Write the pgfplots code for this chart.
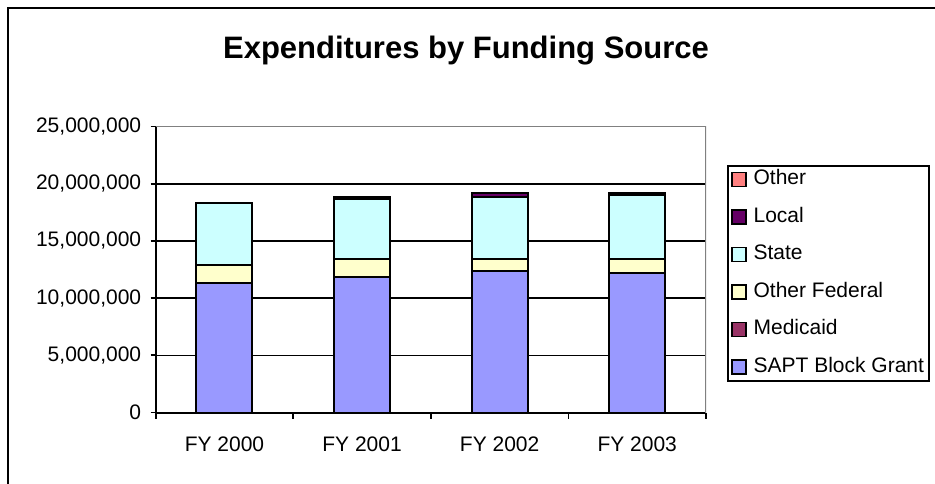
\documentclass[border=0pt]{standalone}
\usepackage{fontspec}
\setmainfont{Liberation Sans}
\usepackage{pgfplots}
\usepackage{pgfplotstable}
\pgfplotsset{compat=1.18}

\definecolor{sapt}{HTML}{9999FF}
\definecolor{medicaid}{HTML}{993366}
\definecolor{otherfed}{HTML}{FFFFCC}
\definecolor{state}{HTML}{CCFFFF}
\definecolor{local}{HTML}{660066}
\definecolor{other}{HTML}{FF8080}
\definecolor{frame}{HTML}{808080}

% values (dollars)
\pgfplotstableread{
x sapt     medicaid otherfed state   local  other
0 11290000 0        1600000  5450000 0      0
1 11840000 0        1580000  5240000 200000 0
2 12370000 0        1050000  5440000 330000 0
3 12170000 0        1250000  5620000 170000 0
}\funding

\begin{document}
\begin{tikzpicture}[x=1pt,y=1pt]
\useasboundingbox (0,0) rectangle (935,483);
% chart area frame (right and bottom cut off in the reference)
\draw[line width=2.5pt] (8,-5) -- (8,475) -- (940,475);
\node[font=\bfseries\fontsize{31}{36}\selectfont] at (466,432) {Expenditures by Funding Source};

\begin{axis}[
    at={(155.7pt,70.5pt)}, anchor=south west,
    scale only axis, width=550.3pt, height=286pt,
    ybar stacked, bar width=56pt,
    xmin=-0.5, xmax=3.5, ymin=0, ymax=25000000,
    axis lines*=left,
    axis line style={line width=2pt},
    xtick={0,1,2,3},
    xticklabels={FY 2000,FY 2001,FY 2002,FY 2003},
    minor xtick={-0.5,0.5,1.5,2.5,3.5},
    ytick={0,5000000,10000000,15000000,20000000,25000000},
    scaled y ticks=false,
    /pgf/number format/.cd, fixed, 1000 sep={,}, assume math mode=true,
    /pgfplots/.cd,
    tick align=outside,
    major x tick style={draw=none},
    major tick length=5pt, minor tick length=6pt,
    tick style={line width=1.8pt, black},
    ymajorgrids, major grid style={line width=1.6pt, black},
    ticklabel style={font=\fontsize{21}{25}\selectfont},
    yticklabel style={xshift=-6pt},
    xticklabel style={yshift=-16pt},
    legend image code/.code={\draw[#1,line width=1.4pt] (3pt,-7pt) rectangle (17pt,7pt);},
    reverse legend,
    legend cell align=left,
    legend style={
        at={(1.0387,0.8664)}, anchor=north west,
        draw=black, line width=1.8pt,
        font=\fontsize{21}{25}\selectfont,
        inner xsep=3pt, inner ysep=4pt,
        row sep=18pt,
        nodes={inner xsep=2pt, inner ysep=0pt, text height=15pt, text depth=4.5pt},
        /tikz/every odd column/.append style={column sep=5pt},
    },
]
\addplot[fill=sapt, draw=black, line width=2pt] table[x=x, y=sapt] {\funding};
\addlegendentry{SAPT Block Grant}
\addplot[fill=medicaid, draw=black, line width=2pt] table[x=x, y=medicaid] {\funding};
\addlegendentry{Medicaid}
\addplot[fill=otherfed, draw=black, line width=2pt] table[x=x, y=otherfed] {\funding};
\addlegendentry{Other Federal}
\addplot[fill=state, draw=black, line width=2pt] table[x=x, y=state] {\funding};
\addlegendentry{State}
\addplot[fill=local, draw=black, line width=2pt] table[x=x, y=local] {\funding};
\addlegendentry{Local}
\addplot[fill=other, draw=black, line width=2pt] table[x=x, y=other] {\funding};
\addlegendentry{Other}
\draw[frame, line width=1.5pt] (rel axis cs:0,1) -- (rel axis cs:1,1) -- (rel axis cs:1,0);
\end{axis}
\end{tikzpicture}
\end{document}
